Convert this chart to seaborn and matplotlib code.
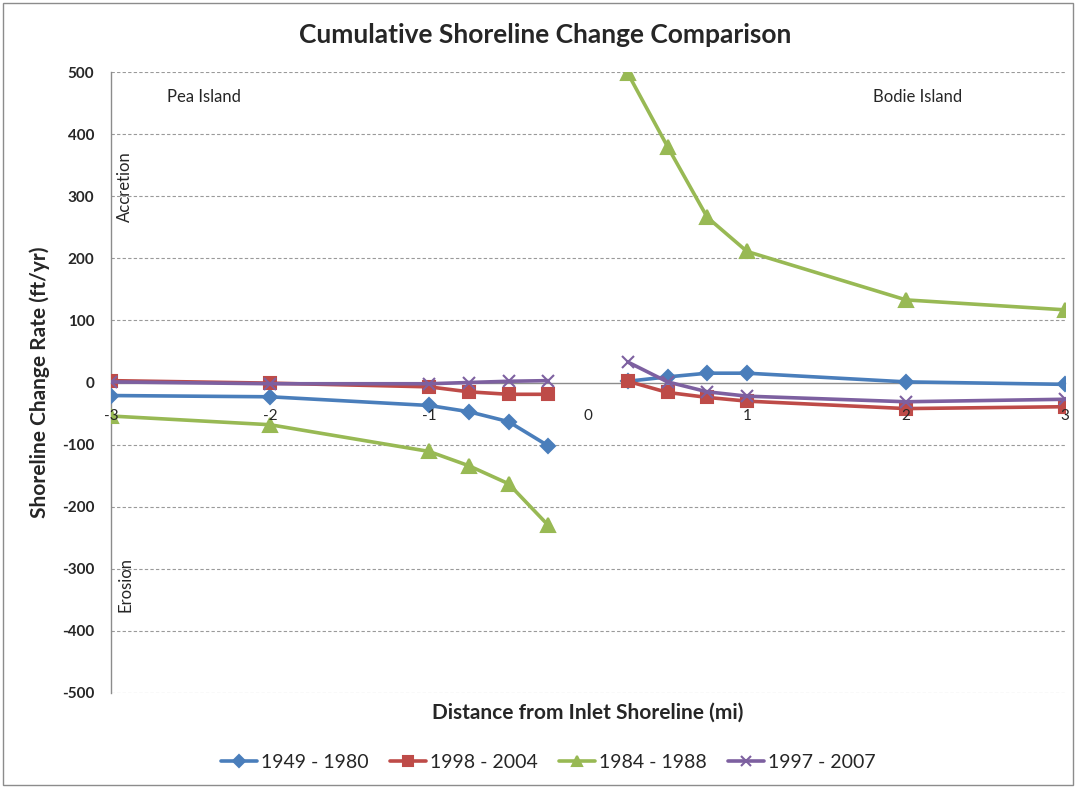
import numpy as np
import pandas as pd
import matplotlib
matplotlib.use("Agg")
import matplotlib.pyplot as plt
from matplotlib.patches import Rectangle
import seaborn as sns

# Distances from the inlet shoreline (mi)
x_pea = [-3, -2, -1, -0.75, -0.5, -0.25]
x_bodie = [0.25, 0.5, 0.75, 1, 2, 3]

periods = ["1949 - 1980", "1998 - 2004", "1984 - 1988", "1997 - 2007"]

# Shoreline change rates (ft/yr)
rate_1949_1980_pea = [-21, -23, -37, -47, -63, -102]
rate_1949_1980_bodie = [2, 9, 15, 15, 1, -3]
rate_1998_2004_pea = [3, -1, -7, -15, -19, -19]
rate_1998_2004_bodie = [2, -16, -24, -30, -42, -39]
rate_1984_1988_pea = [-54, -68, -111, -134, -163, -230]
rate_1984_1988_bodie = [498, 380, 266, 211, 133, 117]
rate_1997_2007_pea = [1, -2, -2, 0, 2, 3]
rate_1997_2007_bodie = [33, 1, -15, -22, -31, -27]

y_ticks = [-500, -400, -300, -200, -100, 0, 100, 200, 300, 400, 500]
x_ticks = [-3, -2, -1, 0, 1, 2, 3]

rates = {
    "1949 - 1980": (rate_1949_1980_pea, rate_1949_1980_bodie),
    "1998 - 2004": (rate_1998_2004_pea, rate_1998_2004_bodie),
    "1984 - 1988": (rate_1984_1988_pea, rate_1984_1988_bodie),
    "1997 - 2007": (rate_1997_2007_pea, rate_1997_2007_bodie),
}

rows = []
for p in periods:
    pea, bodie = rates[p]
    for x, y in zip(x_pea, pea):
        rows.append({"period": p, "side": "Pea", "x": x, "y": y})
    for x, y in zip(x_bodie, bodie):
        rows.append({"period": p, "side": "Bodie", "x": x, "y": y})
df = pd.DataFrame(rows)

colors = {"1949 - 1980": "#4A7EBB", "1998 - 2004": "#BE4B48",
          "1984 - 1988": "#98B954", "1997 - 2007": "#7D60A0"}
markers = {"1949 - 1980": "D", "1998 - 2004": "s",
           "1984 - 1988": "^", "1997 - 2007": "x"}
msizes = {"1949 - 1980": 7.5, "1998 - 2004": 8.5,
          "1984 - 1988": 9.5, "1997 - 2007": 8.5}

sns.set_theme(style="white")
plt.rcParams["font.family"] = ["Lato", "DejaVu Sans"]

fig = plt.figure(figsize=(10.76, 7.87), dpi=100)
ax = fig.add_axes([111 / 1076, 1 - 693 / 787, (1065 - 111) / 1076, (693 - 72) / 787])

for p in periods:
    for side in ["Pea", "Bodie"]:
        sub = df[(df.period == p) & (df.side == side)]
        sns.lineplot(data=sub, x="x", y="y", ax=ax, color=colors[p],
                     marker=markers[p], markersize=msizes[p],
                     markeredgecolor=colors[p], markeredgewidth=1.5,
                     linewidth=2.6, estimator=None, sort=False,
                     label=p if side == "Pea" else None, legend=False,
                     zorder=3)

ax.set_xlim(-3, 3)
ax.set_ylim(-500, 500)
ax.set_yticks(y_ticks)
ax.set_xticks(x_ticks)
ax.set_yticklabels([str(v) for v in y_ticks], fontweight="bold", fontsize=11)
ax.set_xticklabels([str(v) for v in x_ticks], fontweight="bold", fontsize=12)

for v in y_ticks:
    if v != 0:
        ax.axhline(v, color="#9a9a9a", linestyle=(0, (3, 2)), linewidth=0.8, zorder=0)

for s in ["top", "right"]:
    ax.spines[s].set_visible(False)
ax.spines["bottom"].set_position(("data", 0))
for s in ["left", "bottom"]:
    ax.spines[s].set_color("#8c8c8c")
    ax.spines[s].set_linewidth(1.0)
    ax.spines[s].set_zorder(1)
ax.tick_params(axis="x", direction="out", length=4, width=1, color="#8c8c8c", pad=15)
ax.tick_params(axis="y", direction="out", length=4, width=1, color="#8c8c8c", pad=8)
# tick labels sit on top of the series lines
ax.xaxis.set_zorder(5)
ax.yaxis.set_zorder(5)

ax.set_xlabel("")
ax.set_ylabel("")
fig.text(588 / 1076, 1 - 713 / 787, "Distance from Inlet Shoreline (mi)",
         ha="center", va="center", fontsize=15, fontweight="bold")
fig.text(40 / 1076, 1 - 382 / 787, "Shoreline Change Rate (ft/yr)",
         ha="center", va="center", rotation=90, fontsize=15, fontweight="bold")
fig.text(545 / 1076, 1 - 35 / 787, "Cumulative Shoreline Change Comparison",
         ha="center", va="center", fontsize=19, fontweight="bold")

ax.text(-2.65, 460, "Pea Island", ha="left", va="center", fontsize=12)
ax.text(1.79, 460, "Bodie Island", ha="left", va="center", fontsize=12)
ax.text(-2.91, 315, "Accretion", ha="center", va="center", rotation=90, fontsize=12)
ax.text(-2.91, -326, "Erosion", ha="center", va="center", rotation=90, fontsize=12)

handles, labels = ax.get_legend_handles_labels()
fig.legend(handles, labels, loc="center", bbox_to_anchor=(548 / 1076, 1 - 762 / 787),
           ncol=4, frameon=False, fontsize=14, handlelength=1.85,
           handletextpad=0.2, columnspacing=1.1, markerscale=0.8)

fig.add_artist(Rectangle((3 / 1076, 2 / 787), 1070 / 1076, 782 / 787,
                         transform=fig.transFigure, fill=False,
                         edgecolor="#8c8c8c", linewidth=1.0))

fig.savefig("out.png", dpi=100)
